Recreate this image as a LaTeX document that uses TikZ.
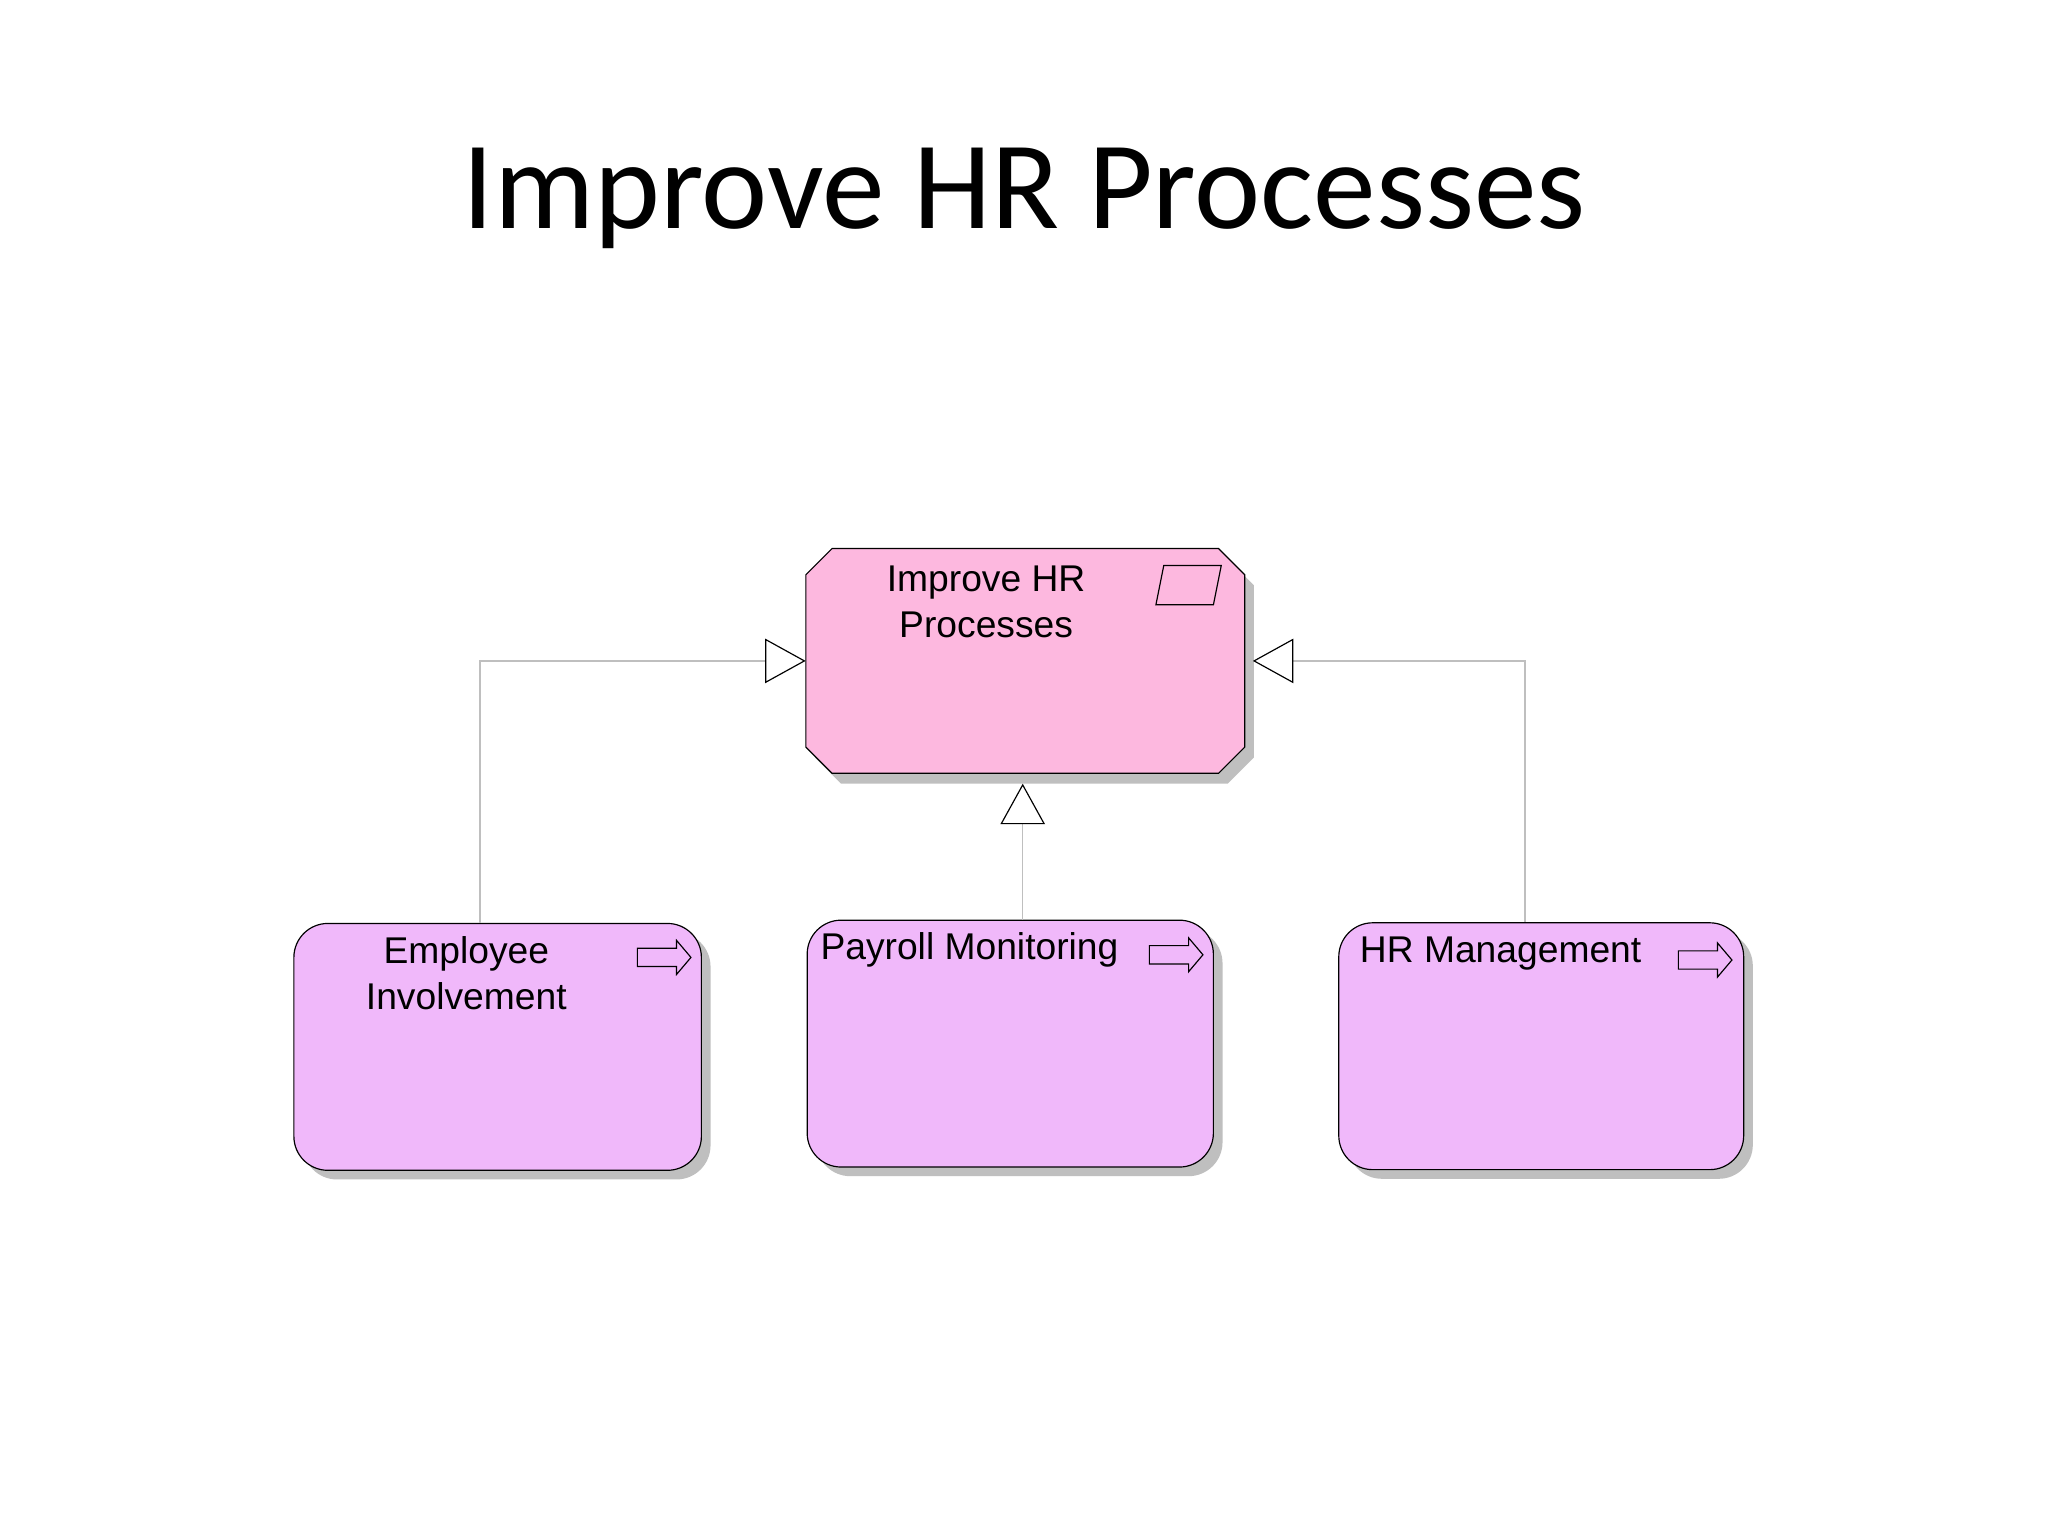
\documentclass[tikz,border=0pt]{standalone}
\usepackage{fontspec}
\setmainfont{Liberation Sans}
\newfontfamily\titlefont{Carlito}
\usetikzlibrary{arrows.meta,shadows}
\definecolor{topfill}{HTML}{FDB8DF}
\definecolor{botfill}{HTML}{F0B8FA}
\tikzset{
  boxshadow/.style={drop shadow={shadow xshift=7pt,shadow yshift=-7pt,fill=black!25,opacity=1}},
  topbox/.style={rectangle,draw=none,minimum width=336pt,minimum height=172pt,inner sep=0pt},
  botbox/.style={rectangle,rounded corners=26pt,draw=black,line width=0.9pt,fill=botfill,minimum height=189pt,inner sep=0pt,boxshadow},
  lbl/.style={font=\fontsize{28.5}{35}\selectfont,align=center,inner sep=0pt},
  conn/.style={draw=black!25,line width=0.9pt,-{Triangle[open,fill=white,color=black,line width=0.9pt,length=31pt,width=34pt]}},
  icon/.style={draw=black,line width=0.9pt,fill=botfill}
}
\begin{document}
\begin{tikzpicture}[x=1pt,y=-1pt]
\fill[white] (0,0) rectangle (1568,1176);
\node[font=\titlefont\fontsize{96}{110}\selectfont] (title) at (784,152) {Improve HR Processes};
\node[topbox] (top) at (785,506) {};
\fill[black!25] (624+20,428) -- (960-20,428) -- (960,448) -- (960,580) -- (960-20,600) -- (624+20,600) -- (624,580) -- (624,448) -- cycle;
\draw[line width=0.9pt,fill=topfill] (617+20,420) -- (953-20,420) -- (953,440) -- (953,572) -- (953-20,592) -- (617+20,592) -- (617,572) -- (617,440) -- cycle;
\node[botbox,minimum width=312pt] (b1) at (381,801.5) {};
\node[botbox,minimum width=311pt] (b2) at (773.5,799) {};
\node[botbox,minimum width=310pt] (b3) at (1180,801) {};
\node[lbl] (t0) at (755,461) {Improve HR\\Processes};
\node[lbl] (t1) at (357,745) {Employee\\Involvement};
\node[lbl,anchor=west] (t2) at (628,727) {Payroll Monitoring};
\node[lbl,anchor=west] (t3) at (1041,730) {HR Management};
% icons
\draw[icon,fill=topfill] (891,433) -- (935,433) -- (929,463) -- (885,463) -- cycle;
\foreach \x/\y in {488/720,880/718,1285/722}{
  \draw[icon] (\x,\y+6) -- (\x+30,\y+6) -- (\x+30,\y) -- (\x+41,\y+13) -- (\x+30,\y+26) -- (\x+30,\y+20) -- (\x,\y+20) -- cycle;
}
\draw[conn] ([xshift=143pt]b1.north west) |- (top.west);
\draw[conn] ([xshift=143pt]b3.north west) |- ([xshift=6pt]top.east);
\draw[conn] (b2.north -| 783,0) -- (783,600);
\end{tikzpicture}
\end{document}
